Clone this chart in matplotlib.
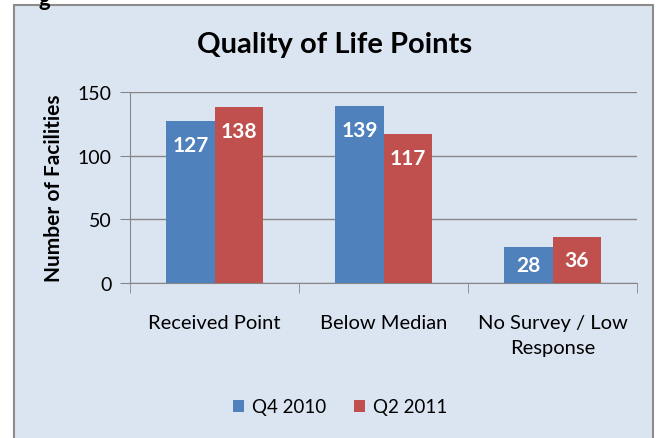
import matplotlib.pyplot as plt
import numpy as np
from matplotlib.patches import Rectangle

# data
categories = ['Received Point', 'Below Median', 'No Survey / Low\nResponse']
q4_2010 = [127, 139, 28]
q2_2011 = [138, 117, 36]
series_names = ['Q4 2010', 'Q2 2011']
yticks = [0, 50, 100, 150]

BLUE = '#4f81bd'
RED = '#c0504d'
BG = '#dbe5f1'
GRID = '#868686'

plt.rcParams['font.family'] = ['Lato', 'DejaVu Sans']

fig = plt.figure(figsize=(6.59, 4.39), dpi=100)
fig.patch.set_facecolor('white')

# chart frame (bottom runs off the picture)
frame = Rectangle((14 / 659, -0.05), (653 - 14) / 659, 1 - 6 / 439 + 0.05,
                  transform=fig.transFigure, facecolor=BG, edgecolor='#8c8c8c',
                  linewidth=1.5, zorder=-5)
fig.patches.append(frame)
# cut-off heading text above the chart
fig.text(44 / 659, 1.0, 'g', ha='center', va='center', fontsize=16,
         fontweight='bold', color='black')

ax = fig.add_axes([130 / 659, 1 - 284 / 439, (637 - 130) / 659, (284 - 93) / 439])
ax.set_facecolor('none')
ax.set_zorder(2)

x = np.arange(len(categories))
w = 0.285
b1 = ax.bar(x - w / 2, q4_2010, w, color=BLUE, label=series_names[0], zorder=3)
b2 = ax.bar(x + w / 2, q2_2011, w, color=RED, label=series_names[1], zorder=3)

# labels sit just inside the bar end; short bars get them centred
for bars, vals in [(b1, q4_2010), (b2, q2_2011)]:
    for r, v in zip(bars, vals):
        ax.text(r.get_x() + r.get_width() / 2, v - min(19, v / 2), str(v),
                ha='center', va='center', color='white', fontsize=15,
                fontweight='bold', zorder=4)

ax.set_xlim(-0.5, len(categories) - 0.5)
ax.set_ylim(0, 150)
ax.set_yticks(yticks)
ax.yaxis.grid(True, color=GRID, linewidth=1)
ax.set_axisbelow(True)

ax.set_xticks(x)
ax.set_xticklabels(categories, fontsize=14.5, linespacing=1.6)
ax.set_xticks(np.arange(len(categories) + 1) - 0.5, minor=True)
ax.tick_params(axis='x', which='major', length=0, pad=22)
ax.tick_params(axis='x', which='minor', length=7, color=GRID, direction='out')
ax.tick_params(axis='y', length=7, color=GRID, labelsize=14, pad=6)

for s in ['top', 'right']:
    ax.spines[s].set_visible(False)
for s in ['left', 'bottom']:
    ax.spines[s].set_color(GRID)

ax.set_ylabel('Number of Facilities', fontsize=15, fontweight='bold', labelpad=10)
fig.text(335 / 659, 1 - 45 / 439, 'Quality of Life Points', ha='center', va='center',
         fontsize=21, fontweight='bold')

fig.legend(loc='center', bbox_to_anchor=(340 / 659, 1 - 408 / 439), ncol=2,
           frameon=False, fontsize=13.5, handlelength=0.6, handleheight=0.6,
           handletextpad=0.4, columnspacing=1.5)

fig.savefig('out.png', dpi=100, facecolor='white')
